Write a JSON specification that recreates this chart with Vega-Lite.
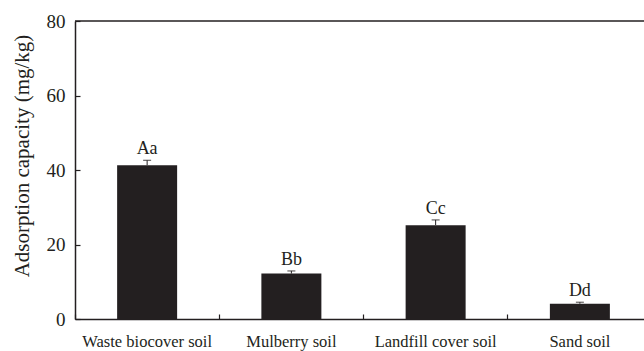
{
  "$schema": "https://vega.github.io/schema/vega-lite/v6.json",
  "width": 569,
  "height": 298,
  "autosize": {"type": "none"},
  "padding": {"left": 75, "top": 21, "right": 0, "bottom": 32},
  "background": "white",
  "config": {
    "view": {"stroke": null},
    "font": "Liberation Serif",
    "axis": {
      "domainColor": "#231f20",
      "domainWidth": 1.5,
      "tickColor": "#231f20",
      "tickWidth": 1.2,
      "labelColor": "#231f20",
      "titleColor": "#231f20",
      "labelFont": "Liberation Serif",
      "titleFont": "Liberation Serif",
      "grid": false
    }
  },
  "data": {
    "values": [
      {"soil": "Waste biocover soil", "mean": 41.3, "upper": 42.6, "label": "Aa"},
      {"soil": "Mulberry soil", "mean": 12.2, "upper": 12.9, "label": "Bb"},
      {"soil": "Landfill cover soil", "mean": 25.2, "upper": 26.6, "label": "Cc"},
      {"soil": "Sand soil", "mean": 4.1, "upper": 4.5, "label": "Dd"}
    ]
  },
  "layer": [
    {
      "mark": {"type": "bar", "color": "#231f20", "width": 60},
      "encoding": {
        "x": {
          "field": "soil",
          "type": "nominal",
          "sort": null,
          "scale": {"range": [0, 577], "paddingInner": 0, "paddingOuter": 0},
          "axis": {
            "title": null,
            "labelAngle": 0,
            "bandPosition": 0,
            "tickSize": -5,
            "labelPadding": 19,
            "labelFontSize": 16.5,
            "labelBaseline": "top"
          }
        },
        "y": {
          "field": "mean",
          "type": "quantitative",
          "scale": {"domain": [0, 80], "nice": false},
          "axis": {
            "title": "Adsorption capacity (mg/kg)",
            "titleFontSize": 21,
            "titleFontWeight": "normal",
            "titlePadding": 14,
            "titleY": 134.5,
            "values": [0, 10, 20, 30, 40, 50, 60, 70, 80],
            "labelExpr": "datum.value % 20 === 0 ? datum.label : ''",
            "tickSize": -5,
            "labelPadding": 15,
            "labelFontSize": 19
          }
        }
      }
    },
    {
      "mark": {"type": "rule", "color": "#231f20", "strokeWidth": 1},
      "encoding": {
        "x": {"field": "soil", "type": "nominal", "sort": null},
        "y": {"field": "mean", "type": "quantitative"},
        "y2": {"field": "upper"}
      }
    },
    {
      "mark": {"type": "tick", "color": "#231f20", "size": 8, "thickness": 1.2, "orient": "horizontal"},
      "encoding": {
        "x": {"field": "soil", "type": "nominal", "sort": null},
        "y": {"field": "upper", "type": "quantitative"}
      }
    },
    {
      "mark": {"type": "text", "color": "#231f20", "fontSize": 18, "baseline": "alphabetic", "dy": -6},
      "encoding": {
        "x": {"field": "soil", "type": "nominal", "sort": null},
        "y": {"field": "upper", "type": "quantitative"},
        "text": {"field": "label"}
      }
    },
    {
      "data": {"values": [{}]},
      "mark": {"type": "rule", "color": "#231f20", "strokeWidth": 1.5},
      "encoding": {"y": {"datum": 80}}
    }
  ]
}
